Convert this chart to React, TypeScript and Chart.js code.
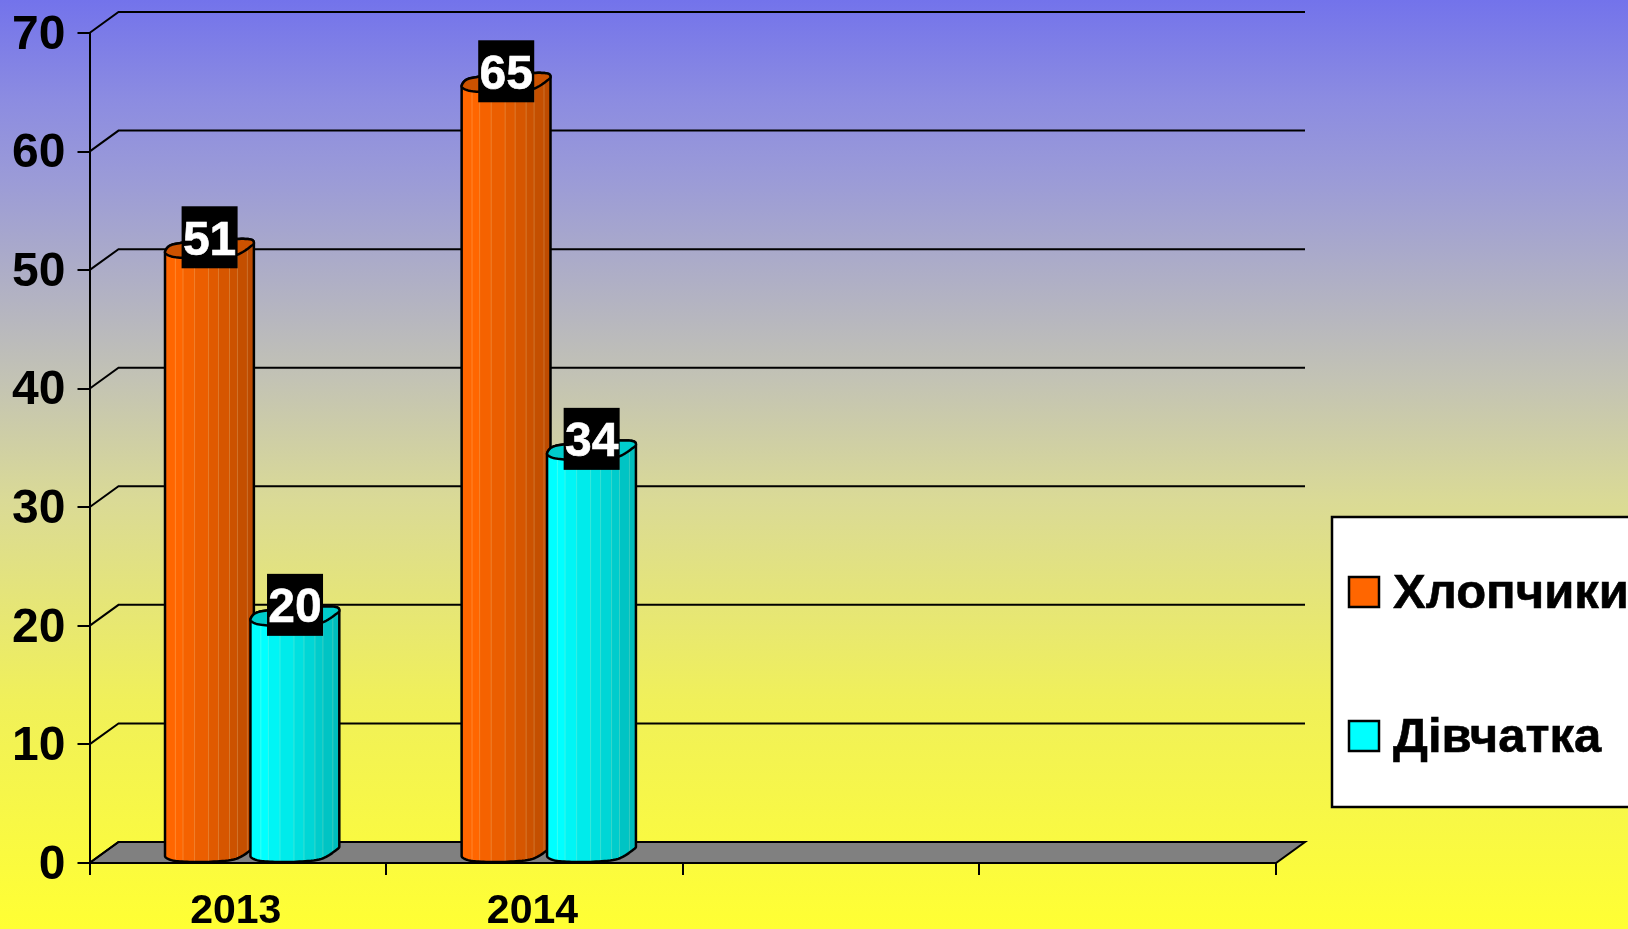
import React, { useEffect, useRef } from "react";
import { Chart, registerables } from "chart.js";

Chart.register(...registerables);

const categories = ["2013", "2014", "", ""];
const boys = [51, 65, null, null];
const girls = [20, 34, null, null];
const boysLabel = "Хлопчики";
const girlsLabel = "Дівчатка";
const FONT = "'Liberation Sans', Arial, sans-serif";

const DX = 29;
const DY = 21;
const outline: [number, number][] = [
  [0, 0.36], [0.05, 0.6], [0.16, 0.72], [0.4, 0.84], [0.8, 0.92], [0.96, 0.9], [1.0, 0.76],
  [0.97, 0.58], [0.8, 0.15], [0.55, 0.02], [0.3, 0], [0.1, 0.06], [0.01, 0.2],
];
const stripes = [0, 0.113, 0.199, 0.33, 0.488, 0.601, 0.725, 0.815, 0.927, 1];
const darkest = [0.0, 0.0, 0.04, 0.08, 0.12, 0.16, 0.2, 0.23, 0.26];

function sampleCurve() {
  const n = outline.length;
  const out: [number, number][] = [];
  for (let i = 0; i < n; i++) {
    const p0 = outline[(i - 1 + n) % n], p1 = outline[i], p2 = outline[(i + 1) % n], p3 = outline[(i + 2) % n];
    for (let k = 0; k < 8; k++) {
      const t = k / 8, t2 = t * t, t3 = t2 * t;
      const f = (a: number, b: number, c: number, d: number) =>
        0.5 * (2 * b + (c - a) * t + (2 * a - 5 * b + 4 * c - d) * t2 + (3 * b - a - 3 * c + d) * t3);
      out.push([f(p0[0], p1[0], p2[0], p3[0]), f(p0[1], p1[1], p2[1], p3[1])]);
    }
  }
  return out;
}
const curve = sampleCurve();
const leftIdx = curve.reduce((b, p, i) => (p[0] < curve[b][0] ? i : b), 0);
const rightIdx = curve.reduce((b, p, i) => (p[0] > curve[b][0] ? i : b), 0);

function shade(rgb: number[], k: number) {
  return `rgb(${rgb.map((c) => Math.round(c * (1 - k))).join(",")})`;
}

function drawCylinder(ctx: CanvasRenderingContext2D, el: any, rgb: number[]) {
  const w: number = el.width - 1;
  const left = el.x - w / 2 + DX / 2;
  const X = (f: number) => left + f * w;
  const topY = (f: number) => el.y - f * DY;
  const botY = (f: number) => el.base - f * DY;
  const n = curve.length;

  ctx.save();
  ctx.beginPath();
  for (let i = leftIdx; ; i = (i + 1) % n) {
    const p = curve[i];
    if (i === leftIdx) ctx.moveTo(X(p[0]), topY(p[1]));
    else ctx.lineTo(X(p[0]), topY(p[1]));
    if (i === rightIdx) break;
  }
  for (let i = rightIdx; ; i = (i + 1) % n) {
    const p = curve[i];
    ctx.lineTo(X(p[0]), botY(p[1]));
    if (i === leftIdx) break;
  }
  ctx.closePath();
  ctx.save();
  ctx.clip();
  for (let s = 0; s < stripes.length - 1; s++) {
    ctx.fillStyle = shade(rgb, darkest[s]);
    ctx.fillRect(X(stripes[s]) - 0.5, el.y - DY - 2, X(stripes[s + 1]) - X(stripes[s]) + 1, el.base - el.y + DY + 4);
    if (s > 0) {
      ctx.fillStyle = "rgba(255,255,200,0.22)";
      ctx.fillRect(X(stripes[s]) - 0.5, el.y - DY - 2, 1, el.base - el.y + DY + 4);
    }
  }
  ctx.restore();
  ctx.strokeStyle = "#000";
  ctx.lineWidth = 2.5;
  ctx.lineJoin = "round";
  ctx.stroke();
  ctx.beginPath();
  curve.forEach((p, i) => (i ? ctx.lineTo(X(p[0]), topY(p[1])) : ctx.moveTo(X(p[0]), topY(p[1]))));
  ctx.closePath();
  ctx.fillStyle = shade(rgb, 0.2);
  ctx.fill();
  ctx.stroke();
  ctx.restore();
}

const wallPlugin = {
  id: "wall3d",
  beforeDatasetsDraw(chart: any) {
    const { ctx, scales } = chart;
    const x = scales.x, y = scales.y;
    const y0 = y.getPixelForValue(0);
    ctx.save();
    ctx.beginPath();
    ctx.moveTo(x.left, y0);
    ctx.lineTo(x.left + DX, y0 - DY);
    ctx.lineTo(x.right + DX, y0 - DY);
    ctx.lineTo(x.right, y0);
    ctx.closePath();
    ctx.fillStyle = "#808080";
    ctx.fill();
    ctx.strokeStyle = "#000";
    ctx.lineWidth = 2;
    ctx.stroke();
    y.ticks.forEach((t: any) => {
      const py = y.getPixelForValue(t.value);
      ctx.beginPath();
      ctx.moveTo(x.left, py);
      ctx.lineTo(x.left + DX, py - DY);
      ctx.lineTo(x.right + DX, py - DY);
      ctx.stroke();
    });
    ctx.restore();
  },
  beforeDatasetDraw() {
    return false;
  },
  afterDatasetsDraw(chart: any) {
    const { ctx } = chart;
    const colors = [[255, 102, 0], [0, 255, 255]];
    const metas = [chart.getDatasetMeta(0), chart.getDatasetMeta(1)];
    const ds = chart.data.datasets;
    for (let c = 0; c < 2; c++) {
      metas.forEach((m, j) => {
        if (ds[j].data[c] != null) drawCylinder(ctx, m.data[c], colors[j]);
      });
    }
    ctx.save();
    ctx.font = `bold 48px ${FONT}`;
    ctx.textAlign = "center";
    ctx.textBaseline = "middle";
    metas.forEach((m, j) => {
      m.data.forEach((el: any, i: number) => {
        const v = ds[j].data[i];
        if (v == null) return;
        const cx = el.x + DX / 2;
        const cy = el.y - DY;
        ctx.fillStyle = "#000";
        ctx.fillRect(cx - 28, cy - 31, 56, 62);
        ctx.fillStyle = "#fff";
        ctx.strokeStyle = "#fff";
        ctx.lineWidth = 0.6;
        ctx.fillText(String(v), cx, cy + 4);
        ctx.strokeText(String(v), cx, cy + 4);
      });
    });
    ctx.restore();
  },
  afterDraw(chart: any) {
    const { ctx } = chart;
    ctx.save();
    ctx.fillStyle = "#fff";
    ctx.strokeStyle = "#000";
    ctx.lineWidth = 2.5;
    ctx.fillRect(1332, 517, 300, 290);
    ctx.strokeRect(1332, 517, 300, 290);
    const rows = [592, 736];
    ctx.font = `bold 49px ${FONT}`;
    ctx.textAlign = "left";
    ctx.textBaseline = "alphabetic";
    chart.data.datasets.forEach((d: any, i: number) => {
      ctx.fillStyle = d.backgroundColor;
      ctx.lineWidth = 2.5;
      ctx.fillRect(1349, rows[i] - 15, 30, 30);
      ctx.strokeRect(1349, rows[i] - 15, 30, 30);
      ctx.fillStyle = "#000";
      ctx.lineWidth = 0.6;
      ctx.fillText(d.label, 1393, rows[i] + 16);
      ctx.strokeText(d.label, 1393, rows[i] + 16);
    });
    ctx.restore();
  },
};

export default function App() {
  const ref = useRef<HTMLCanvasElement>(null);
  useEffect(() => {
    document.body.style.margin = "0";
    const chart = new Chart(ref.current!, {
      type: "bar",
      data: {
        labels: categories,
        datasets: [
          { label: boysLabel, data: boys, backgroundColor: "#ff6600", borderColor: "#000" },
          { label: girlsLabel, data: girls, backgroundColor: "#00ffff", borderColor: "#000" },
        ],
      },
      plugins: [wallPlugin],
      options: {
        responsive: false,
        animation: false,
        layout: { padding: { left: 0, top: 33, right: 352, bottom: 0 } },
        datasets: { bar: { categoryPercentage: 0.576, barPercentage: 1.047 } },
        plugins: { legend: { display: false }, tooltip: { enabled: false } },
        scales: {
          x: {
            offset: true,
            afterFit: (s: any) => { s.height = 66; s.paddingLeft = 0; s.paddingRight = 0; },
            grid: { drawOnChartArea: false, color: "#000", lineWidth: 2, tickLength: 12, offset: true },
            border: { color: "#000", width: 2 },
            ticks: {
              color: "#000",
              font: { family: FONT, size: 41, weight: "bold" },
              maxRotation: 0,
              autoSkip: false,
              padding: 12,
              labelOffset: -2,
            },
          },
          y: {
            min: 0,
            max: 70,
            afterFit: (s: any) => { s.width = 89.5; s.paddingTop = 0; s.paddingBottom = 0; },
            grid: { drawOnChartArea: false, color: "#000", lineWidth: 2, tickLength: 12 },
            border: { color: "#000", width: 2 },
            ticks: {
              stepSize: 10,
              color: "#000",
              font: { family: FONT, size: 48, weight: "bold" },
              padding: 12,
              labelOffset: 2.5,
            },
          },
        },
      },
    } as any);
    return () => chart.destroy();
  }, []);
  return (
    <div
      style={{
        position: "fixed",
        inset: 0,
        overflow: "hidden",
        background:
          "linear-gradient(to bottom, rgb(115,115,235) 0px, rgb(140,140,225) 100px, rgb(155,155,215) 180px, rgb(195,195,180) 380px, rgb(218,218,150) 500px, rgb(240,240,90) 700px, rgb(255,255,51) 929px)",
      }}
    >
      <canvas ref={ref} width={1628} height={929} style={{ display: "block" }} />
    </div>
  );
}
